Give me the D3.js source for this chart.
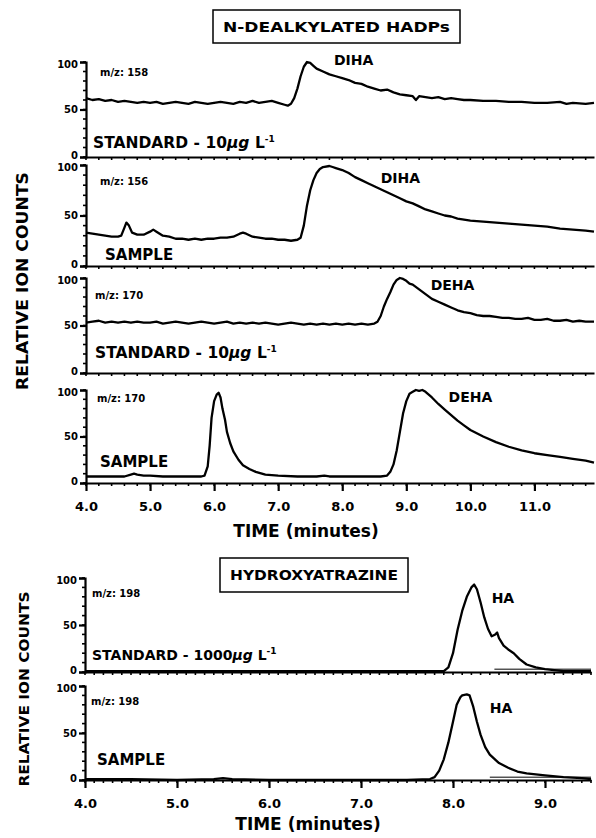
<!DOCTYPE html>
<meta charset="utf-8">
<head>
<script type="text/javascript" src="https://cdn.jsdelivr.net/npm/d3@7/dist/d3.min.js"></script>
<style>
  body { margin: 0; background: #fff; }
  text { font-family: "DejaVu Sans", sans-serif; font-weight: bold; fill: #000; }
  .trace { fill: none; stroke: #000; stroke-width: 2.3; stroke-linejoin: round; }
  .axis path, .axis line { stroke: #000; stroke-width: 2.2; }
</style>
</head>
<body>
<script>
// ---- data: [time (min), relative ion counts] ----
var diha158Std = [[4.0,62],[4.1,60],[4.2,61],[4.3,59],[4.4,60],[4.5,58],[4.6,59],[4.7,58],[4.8,57],[4.9,58],
  [5.0,57],[5.1,58],[5.2,56],[5.3,57],[5.4,58],[5.5,57],[5.6,56],[5.7,58],[5.8,57],[5.9,56],[6.0,57],[6.1,58],
  [6.2,57],[6.3,56],[6.4,58],[6.5,57],[6.6,59],[6.7,57],[6.8,58],[6.9,59],[7.0,57],[7.1,55],[7.15,54],[7.2,56],
  [7.25,62],[7.3,72],[7.35,85],[7.4,95],[7.45,100],[7.5,99],[7.55,96],[7.6,93],[7.7,90],[7.8,87],[7.9,85],
  [8.0,83],[8.1,81],[8.2,78],[8.3,77],[8.4,74],[8.5,72],[8.6,70],[8.7,71],[8.8,68],[8.9,66],[9.0,65],[9.1,64],
  [9.15,60],[9.2,64],[9.3,63],[9.4,62],[9.5,63],[9.6,61],[9.7,62],[9.8,61],[9.9,60],[10.0,60],[10.2,59],
  [10.4,59],[10.6,58],[10.8,58],[11.0,57],[11.2,57],[11.4,58],[11.5,56],[11.6,57],[11.8,56],[11.93,57]];

var diha156Sample = [[4.0,33],[4.1,32],[4.2,31],[4.3,30],[4.4,29],[4.5,29],[4.55,30],[4.6,38],[4.63,43],
  [4.67,40],[4.72,33],[4.8,31],[4.9,31],[5.0,34],[5.05,36],[5.1,34],[5.2,30],[5.3,29],[5.4,27],[5.5,27],
  [5.6,26],[5.7,27],[5.8,26],[5.9,27],[6.0,27],[6.1,28],[6.2,28],[6.3,29],[6.4,32],[6.45,33],[6.5,32],
  [6.6,29],[6.7,28],[6.8,27],[6.9,27],[7.0,26],[7.1,26],[7.2,25],[7.3,26],[7.35,28],[7.4,40],[7.45,60],
  [7.5,75],[7.55,85],[7.6,92],[7.65,96],[7.7,98],[7.8,99],[7.85,98],[7.9,97],[8.0,95],[8.1,92],[8.2,88],
  [8.3,85],[8.4,82],[8.5,79],[8.6,76],[8.7,73],[8.8,70],[8.9,67],[9.0,64],[9.1,62],[9.2,59],[9.3,56],
  [9.4,54],[9.5,52],[9.6,50],[9.7,49],[9.8,47],[9.9,46],[10.0,45],[10.2,44],[10.4,43],[10.6,42],[10.8,41],
  [11.0,40],[11.2,39],[11.4,37],[11.6,36],[11.8,35],[11.93,34]];

var deha170Std = [[4.0,53],[4.1,54],[4.2,55],[4.3,53],[4.4,54],[4.5,53],[4.6,54],[4.7,53],[4.8,54],[4.9,53],
  [5.0,53],[5.1,54],[5.2,52],[5.3,53],[5.4,54],[5.5,53],[5.6,52],[5.7,53],[5.8,54],[5.9,53],[6.0,52],[6.1,53],
  [6.2,54],[6.3,52],[6.4,53],[6.5,52],[6.6,53],[6.7,52],[6.8,53],[6.9,52],[7.0,51],[7.1,52],[7.2,53],[7.3,52],
  [7.4,51],[7.5,52],[7.6,51],[7.7,52],[7.8,51],[7.9,52],[8.0,51],[8.1,52],[8.2,51],[8.3,52],[8.4,51],[8.5,52],
  [8.55,54],[8.6,60],[8.65,70],[8.7,78],[8.75,85],[8.8,93],[8.85,98],[8.9,100],[8.95,99],[9.0,97],[9.05,94],
  [9.1,93],[9.2,88],[9.3,83],[9.4,78],[9.5,75],[9.6,72],[9.7,69],[9.8,66],[9.9,64],[10.0,63],[10.1,61],
  [10.2,60],[10.3,60],[10.4,59],[10.5,58],[10.6,58],[10.7,57],[10.8,57],[10.9,58],[11.0,56],[11.1,56],
  [11.2,57],[11.3,55],[11.4,55],[11.5,56],[11.6,54],[11.7,55],[11.8,54],[11.93,54]];

var deha170Sample = [[4.0,7],[4.2,7],[4.4,7],[4.6,7],[4.7,9],[4.75,10],[4.8,9],[4.9,8],[5.0,8],[5.2,7],
  [5.4,7],[5.6,7],[5.8,7],[5.85,8],[5.9,18],[5.93,40],[5.96,70],[6.0,88],[6.04,95],[6.07,97],[6.1,92],
  [6.13,80],[6.17,68],[6.2,55],[6.25,43],[6.3,34],[6.38,25],[6.45,19],[6.55,15],[6.65,12],[6.8,9],[7.0,8],
  [7.3,7],[7.6,7],[7.72,8],[7.8,7],[8.0,7],[8.3,7],[8.6,7],[8.7,8],[8.75,12],[8.8,20],[8.85,35],[8.9,55],
  [8.95,75],[9.0,88],[9.05,96],[9.1,98],[9.15,100],[9.2,99],[9.25,100],[9.3,98],[9.4,92],[9.5,85],[9.6,79],
  [9.7,73],[9.8,67],[9.9,62],[10.0,57],[10.2,50],[10.4,44],[10.6,39],[10.8,35],[11.0,32],[11.2,30],
  [11.4,28],[11.6,26],[11.8,24],[11.93,22]];

var ha198Std = [[4.0,1],[4.5,1],[5.0,1],[5.5,1],[6.0,1],[6.5,1],[7.0,1],[7.5,1],[7.9,1],[7.95,5],[8.0,20],
  [8.05,45],[8.1,65],[8.15,80],[8.2,90],[8.23,93],[8.26,88],[8.3,74],[8.34,58],[8.38,46],[8.42,38],[8.46,40],
  [8.48,42],[8.5,36],[8.55,28],[8.6,24],[8.66,20],[8.72,14],[8.8,8],[8.9,5],[9.0,3],[9.1,2],[9.2,1],[9.5,1]];
var ha198StdTail = [[8.45,3],[9.5,3]];

var ha198Sample = [[4.0,1],[4.5,1],[5.0,0],[5.4,1],[5.5,2],[5.6,1],[6.0,0],[6.5,0],[7.0,0],[7.5,0],[7.75,1],
  [7.8,3],[7.85,10],[7.9,22],[7.95,40],[8.0,62],[8.04,80],[8.08,88],[8.1,90],[8.15,91],[8.18,90],[8.22,78],
  [8.26,62],[8.3,48],[8.35,35],[8.4,27],[8.5,18],[8.6,13],[8.7,9],[8.8,7],[9.0,5],[9.2,3],[9.4,2],[9.5,1]];
var ha198SampleTail = [[8.4,3],[9.5,3]];

var topTicks = [4, 5, 6, 7, 8, 9, 10, 11];
var bottomTicks = [4, 5, 6, 7, 8, 9];
var yTicks = [0, 50, 100];

// ---- page ----
var svg = d3.select("body").append("svg")
    .attr("width", 596)
    .attr("height", 838);

// two x scales: upper block (4 traces) and lower block (2 traces)
var xTop = d3.scaleLinear().domain([4, 11.93]).range([86, 594]);
var xBot = d3.scaleLinear().domain([4, 9.5]).range([85, 591]);

var panels = [
  {data: diha158Std, x: xTop, y100: 62, y0: 157, mz: "m/z: 158", mzX: 100, mzDy: 14,
   kind: "STANDARD  - 10", conc: true, kX: 93, kDy: -9, kSize: 15.5, peak: "DIHA", pt: [7.87, 97], step: 0.2},
  {data: diha156Sample, x: xTop, y100: 165, y0: 266, mz: "m/z: 156", mzX: 100, mzDy: 20,
   kind: "SAMPLE", conc: false, kX: 105, kDy: -6, kSize: 15, peak: "DIHA", pt: [8.6, 82], step: 0.2},
  {data: deha170Std, x: xTop, y100: 278, y0: 373, mz: "m/z: 170", mzX: 95, mzDy: 21,
   kind: "STANDARD - 10", conc: true, kX: 95, kDy: -15, kSize: 15.5, peak: "DEHA", pt: [9.38, 87], step: 0.2},
  {data: deha170Sample, x: xTop, y100: 390, y0: 483, mz: "m/z: 170", mzX: 97, mzDy: 12,
   kind: "SAMPLE", conc: false, kX: 100, kDy: -16, kSize: 15, peak: "DEHA", pt: [9.66, 87], step: 0.2,
   ticks: topTicks},
  {data: ha198Std, tail: ha198StdTail, x: xBot, y100: 578, y0: 672, mz: "m/z: 198", mzX: 92, mzDy: 19,
   kind: "STANDARD - 1000", conc: true, kX: 92, kDy: -12, kSize: 14, peak: "HA", pt: [8.42, 73], step: 0.1},
  {data: ha198Sample, tail: ha198SampleTail, x: xBot, y100: 686, y0: 780, mz: "m/z: 198", mzX: 91, mzDy: 19,
   kind: "SAMPLE", conc: false, kX: 97, kDy: -15, kSize: 15, peak: "HA", pt: [8.4, 71], step: 0.1,
   ticks: bottomTicks}
];

panels.forEach(function(p) {
  var x = p.x;
  var y = d3.scaleLinear().domain([0, 100]).range([p.y0, p.y100]);
  var g = svg.append("g");
  var x0 = x.range()[0];

  // minor ticks on y every 10
  g.append("g").selectAll("line")
    .data(d3.range(0, 101, 10))
    .enter().append("line")
      .attr("x1", x0 - 3).attr("x2", x0)
      .attr("y1", function(d) { return y(d); })
      .attr("y2", function(d) { return y(d); })
      .attr("stroke", "#000").attr("stroke-width", 1.6);

  var yAxis = g.append("g")
    .attr("class", "axis")
    .attr("transform", "translate(" + x0 + ",0)")
    .call(d3.axisLeft(y).tickValues(yTicks).tickSize(6).tickSizeOuter(6).tickPadding(2));
  yAxis.selectAll("text")
    .style("font-size", "10px").style("font-family", "DejaVu Sans").style("font-weight", "bold")
    .attr("y", function(d) { return d === 0 ? -2 : (d === 100 ? 2 : 0); });

  // x axis (baseline) with minor ticks
  var minor = d3.range(x.domain()[0], x.domain()[1] + 1e-6, p.step);
  g.append("g").selectAll("line")
    .data(minor)
    .enter().append("line")
      .attr("x1", function(d) { return x(d); })
      .attr("x2", function(d) { return x(d); })
      .attr("y1", p.y0).attr("y2", p.y0 + 3)
      .attr("stroke", "#000").attr("stroke-width", 1.6);

  var xAxis = g.append("g")
    .attr("class", "axis")
    .attr("transform", "translate(0," + p.y0 + ")")
    .call(d3.axisBottom(x).tickValues(p.ticks || []).tickSize(p.ticks ? 8 : 0).tickSizeOuter(0)
      .tickPadding(11).tickFormat(d3.format(".1f")));
  xAxis.selectAll("text").style("font-size", "13px").style("font-family", "DejaVu Sans").style("font-weight", "bold");

  var line = d3.line()
    .x(function(d) { return x(d[0]); })
    .y(function(d) { return y(d[1]); });

  g.append("path").datum(p.data).attr("class", "trace").attr("d", line);
  if (p.tail) {
    g.append("path").datum(p.tail).attr("class", "trace").style("stroke-width", 1).attr("d", line);
  }

  // labels
  g.append("text").attr("x", p.mzX).attr("y", p.y100 + p.mzDy)
    .style("font-size", "10px").text(p.mz);

  var k = g.append("text").attr("x", p.kX).attr("y", p.y0 + p.kDy)
    .style("font-size", p.kSize + "px").text(p.kind);
  if (p.conc) {
    k.append("tspan").style("font-style", "italic").text("μg");
    k.append("tspan").text(" L");
    k.append("tspan").attr("dy", -6).style("font-size", "9px").text("-1");
  }

  g.append("text").attr("x", x(p.pt[0])).attr("y", y(p.pt[1]))
    .style("font-size", "14px").text(p.peak);
});

// axis titles
svg.append("text").attr("x", 306).attr("y", 537).attr("text-anchor", "middle")
  .style("font-size", "17px").text("TIME (minutes)");
svg.append("text").attr("x", 308).attr("y", 830).attr("text-anchor", "middle")
  .style("font-size", "17px").text("TIME (minutes)");

svg.append("text")
  .attr("transform", "translate(28,281) rotate(-90)")
  .attr("text-anchor", "middle")
  .attr("textLength", 218).attr("lengthAdjust", "spacingAndGlyphs")
  .style("font-size", "15px").text("RELATIVE ION COUNTS");
svg.append("text")
  .attr("transform", "translate(29,689) rotate(-90)")
  .attr("text-anchor", "middle")
  .attr("textLength", 195).attr("lengthAdjust", "spacingAndGlyphs")
  .style("font-size", "14px").text("RELATIVE ION COUNTS");

// boxed group titles
function boxTitle(x1, x2, y1, y2, label, size) {
  svg.append("rect").attr("x", x1).attr("y", y1).attr("width", x2 - x1).attr("height", y2 - y1)
    .attr("fill", "none").attr("stroke", "#000").attr("stroke-width", 1.5);
  svg.append("text").attr("x", (x1 + x2) / 2).attr("y", (y1 + y2) / 2 + size * 0.36)
    .attr("text-anchor", "middle")
    .attr("textLength", x2 - x1 - 20).attr("lengthAdjust", "spacingAndGlyphs")
    .style("font-size", size + "px").text(label);
}
boxTitle(213, 460, 10, 43, "N-DEALKYLATED HADPs", 14);
boxTitle(220, 408, 558, 592, "HYDROXYATRAZINE", 14);
</script>
</body>
</html>
